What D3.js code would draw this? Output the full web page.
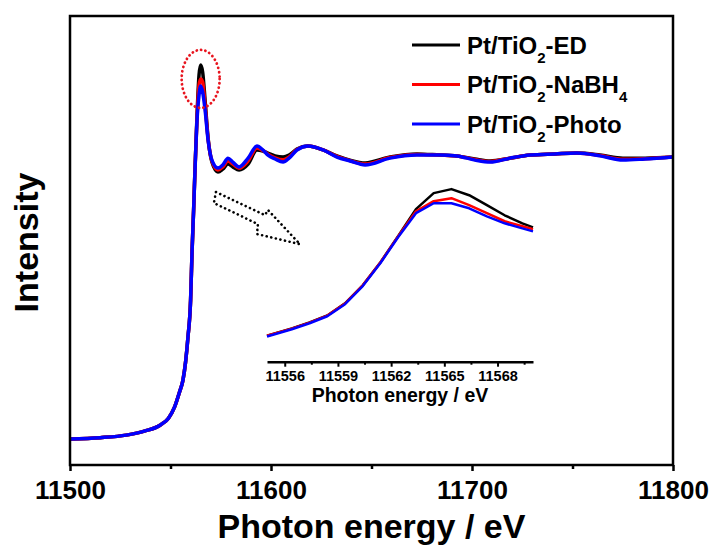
<!DOCTYPE html>
<html>
<head>
<meta charset="utf-8">
<script src="https://cdn.jsdelivr.net/npm/d3@7"></script>
<style>
  body { margin: 0; background: #fff; }
  text { font-family: Arial, "Liberation Sans", sans-serif; font-weight: bold; fill: #000; }
</style>
</head>
<body>
<div id="visContainer"></div>
<script>
// main spectrum (normalised intensity vs photon energy, eV)
var energy = [11500, 11515, 11528, 11537, 11545, 11549, 11552, 11554.5, 11556.2, 11557.5, 11558.7, 11560, 11560.7,
  11561.5, 11562.2, 11563.2, 11564.2, 11565, 11566, 11567.2, 11568.7, 11570.6, 11573.6, 11576, 11578.6, 11581,
  11584.1, 11588.6, 11593, 11596, 11598.5, 11602, 11606, 11609, 11612.9, 11618.4, 11625.9, 11632.8, 11639.3,
  11646.8, 11659.2, 11672.6, 11684.1, 11692.5, 11701.5, 11709, 11718.9, 11728.9, 11741.3, 11752.2, 11763.7,
  11775.1, 11786.1, 11800];

var muED = [0, 0.005, 0.014, 0.028, 0.050, 0.074, 0.113, 0.167, 0.209, 0.273, 0.362, 0.493, 0.660,
  0.812, 0.960, 1.149, 1.291, 1.326, 1.301, 1.202, 1.067, 0.982, 0.947, 0.957, 0.975, 0.965,
  0.954, 0.975, 1.025, 1.021, 1.014, 1.004, 1.000, 1.007, 1.028, 1.039, 1.025, 1.004, 0.989,
  0.979, 1.000, 1.011, 1.007, 1.004, 0.993, 0.986, 0.996, 1.007, 1.011, 1.014, 1.007,
  0.996, 0.996, 1.000];

var muNaBH4 = [0, 0.005, 0.014, 0.028, 0.050, 0.074, 0.113, 0.167, 0.209, 0.273, 0.362, 0.493, 0.660,
  0.812, 0.957, 1.138, 1.255, 1.277, 1.266, 1.184, 1.064, 0.986, 0.954, 0.965, 0.986, 0.975,
  0.960, 0.986, 1.032, 1.023, 1.010, 0.997, 0.990, 1.000, 1.027, 1.039, 1.025, 1.002, 0.987,
  0.975, 0.998, 1.009, 1.007, 1.004, 0.991, 0.984, 0.996, 1.007, 1.011, 1.014, 1.005,
  0.992, 0.994, 1.000];

var muPhoto = [0, 0.005, 0.014, 0.028, 0.050, 0.074, 0.113, 0.167, 0.209, 0.273, 0.362, 0.493, 0.660,
  0.812, 0.954, 1.131, 1.220, 1.252, 1.230, 1.167, 1.060, 0.989, 0.961, 0.972, 0.996, 0.982,
  0.965, 0.996, 1.039, 1.025, 1.007, 0.993, 0.982, 0.996, 1.025, 1.039, 1.025, 1.000, 0.986,
  0.972, 0.996, 1.007, 1.007, 1.004, 0.989, 0.982, 0.996, 1.007, 1.011, 1.014, 1.004,
  0.989, 0.993, 1.000];

// inset: zoom on the white line
var insetEnergy = [11555, 11556.4, 11557.4, 11558.4, 11559.4, 11560.4, 11561.4, 11562.4, 11563.4, 11564.4,
  11565.4, 11566.4, 11567.4, 11568.4, 11569.4, 11570];
var insetED = [0.200, 0.256, 0.303, 0.357, 0.450, 0.590, 0.768, 0.970, 1.177, 1.301,
  1.332, 1.285, 1.208, 1.130, 1.068, 1.037];
var insetNaBH4 = [0.200, 0.255, 0.302, 0.356, 0.449, 0.589, 0.767, 0.968, 1.161, 1.239,
  1.262, 1.208, 1.146, 1.084, 1.045, 1.022];
var insetPhoto = [0.195, 0.250, 0.297, 0.351, 0.444, 0.584, 0.762, 0.963, 1.146, 1.223,
  1.223, 1.184, 1.122, 1.068, 1.029, 1.006];

var seriesNames = ["ED", "NaBH4", "Photo"];
var seriesColors = ["#000000", "#ff0000", "#0000ff"];

var majorTicks = [11500, 11600, 11700, 11800];
var minorTicks = [11550, 11650, 11750];
var insetMajor = [11556, 11559, 11562, 11565, 11568];
var insetMinor = [11557.5, 11560.5, 11563.5, 11566.5, 11569.5];

// arrow outline, in data units of the main plot
var arrowPts = [[11572.6, 0.876], [11597.0, 0.794], [11598.5, 0.812], [11614.4, 0.691],
  [11593.0, 0.727], [11593.5, 0.762], [11571.6, 0.837]];

var width = 715, height = 547;
var margin = {left: 70, right: 42, top: 16, bottom: 82};

var svg = d3.select("#visContainer").append("svg")
    .attr("width", width)
    .attr("height", height);

var x = d3.scaleLinear().domain([11500, 11800]).range([margin.left, width - margin.right]);
var y = d3.scaleLinear().domain([-0.092, 1.5]).range([height - margin.bottom, margin.top]);

var mainSeries = [muED, muNaBH4, muPhoto];
var line = d3.line()
    .x(function(d) { return x(d[0]); })
    .y(function(d) { return y(d[1]); })
    .curve(d3.curveMonotoneX);

mainSeries.forEach(function(s, i) {
  svg.append("path")
      .datum(energy.map(function(e, j) { return [e, s[j]]; }))
      .attr("fill", "none")
      .attr("stroke", seriesColors[i])
      .attr("stroke-width", 3.5)
      .attr("stroke-linejoin", "round")
      .attr("d", line);
});

// frame
svg.append("rect")
    .attr("x", x(11500)).attr("y", y(1.5))
    .attr("width", x(11800) - x(11500))
    .attr("height", y(-0.092) - y(1.5))
    .attr("fill", "none")
    .attr("stroke", "#000")
    .attr("stroke-width", 2.5);

var xAxis = svg.append("g")
    .attr("transform", "translate(0," + y(-0.092) + ")")
    .call(d3.axisBottom(x).tickValues(majorTicks).tickFormat(d3.format("d"))
      .tickSize(6).tickSizeOuter(0).tickPadding(10));
xAxis.select(".domain").remove();
xAxis.selectAll("line").attr("stroke-width", 2.5);
xAxis.selectAll("text").attr("font-size", 26).attr("font-family", null);

var xMinor = svg.append("g")
    .attr("transform", "translate(0," + y(-0.092) + ")")
    .call(d3.axisBottom(x).tickValues(minorTicks).tickFormat("").tickSize(4).tickSizeOuter(0));
xMinor.select(".domain").remove();
xMinor.selectAll("line").attr("stroke-width", 2.5);

svg.append("text")
    .attr("x", (x(11500) + x(11800)) / 2)
    .attr("y", 538)
    .attr("text-anchor", "middle")
    .attr("font-size", 34)
    .text("Photon energy / eV");

svg.append("text")
    .attr("transform", "translate(38," + ((y(-0.092) + y(1.5)) / 2 + 2) + ") rotate(-90)")
    .attr("text-anchor", "middle")
    .attr("font-size", 34)
    .text("Intensity");

// red dotted ellipse around the white line
svg.append("ellipse")
    .attr("cx", x(11565)).attr("cy", y(1.277))
    .attr("rx", 19).attr("ry", 29)
    .attr("fill", "none")
    .attr("stroke", "#e8141e")
    .attr("stroke-width", 2.8)
    .attr("stroke-linecap", "round")
    .attr("stroke-dasharray", "0.1,4.3");

// dotted arrow
svg.append("path")
    .attr("d", d3.line().x(function(d) { return x(d[0]); }).y(function(d) { return y(d[1]); })(arrowPts) + "Z")
    .attr("fill", "none")
    .attr("stroke", "#000")
    .attr("stroke-width", 2.6)
    .attr("stroke-linecap", "round")
    .attr("stroke-dasharray", "0.1,4.6");

// legend
var legend = svg.append("g");
seriesNames.forEach(function(n, i) {
  var ly = 45 + i * 39.5;
  legend.append("line")
      .attr("x1", 412).attr("x2", 460).attr("y1", ly).attr("y2", ly)
      .attr("stroke", seriesColors[i]).attr("stroke-width", 3);
  var t = legend.append("text").attr("x", 467).attr("y", ly + 8.5).attr("font-size", 24);
  t.append("tspan").text("Pt/TiO");
  t.append("tspan").attr("font-size", 15).attr("dy", 9).text("2");
  if (n === "NaBH4") {
    t.append("tspan").attr("dy", -9).text("-NaBH");
    t.append("tspan").attr("font-size", 15).attr("dy", 9).text("4");
  } else {
    t.append("tspan").attr("dy", -9).text("-" + n);
  }
});

// inset
var xi = d3.scaleLinear().domain([11555, 11570]).range([267, 533]);
var yi = d3.scaleLinear().domain([0, 1.4]).range([361.7, 180.3]);
var insetLine = d3.line()
    .x(function(d) { return xi(d[0]); })
    .y(function(d) { return yi(d[1]); });

[insetED, insetNaBH4, insetPhoto].forEach(function(s, i) {
  svg.append("path")
      .datum(insetEnergy.map(function(e, j) { return [e, s[j]]; }))
      .attr("fill", "none")
      .attr("stroke", seriesColors[i])
      .attr("stroke-width", 2.5)
      .attr("stroke-linejoin", "round")
      .attr("d", insetLine);
});

var ax = svg.append("g")
    .attr("transform", "translate(0,361.7)")
    .call(d3.axisBottom(xi).tickValues(insetMajor).tickFormat(d3.format("d"))
      .tickSize(5).tickSizeOuter(0).tickPadding(4));
ax.select(".domain").attr("stroke-width", 2.5);
ax.selectAll("line").attr("stroke-width", 2);
ax.selectAll("text").attr("font-size", 14.5).attr("font-family", null);

var axm = svg.append("g")
    .attr("transform", "translate(0,361.7)")
    .call(d3.axisBottom(xi).tickValues(insetMinor).tickFormat("").tickSize(3).tickSizeOuter(0));
axm.select(".domain").remove();
axm.selectAll("line").attr("stroke-width", 2);

svg.append("text")
    .attr("x", 400)
    .attr("y", 402)
    .attr("text-anchor", "middle")
    .attr("font-size", 19.5)
    .text("Photon energy / eV");
</script>
</body>
</html>
